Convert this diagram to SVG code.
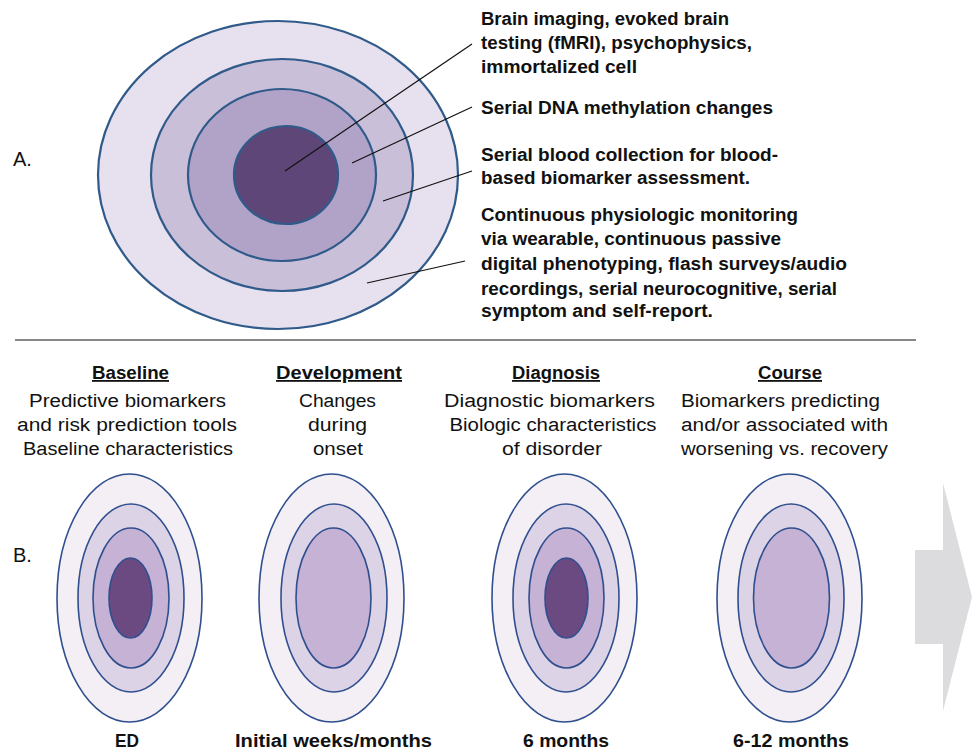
<svg xmlns="http://www.w3.org/2000/svg" width="973" height="752" viewBox="0 0 973 752">
<style>
.t{font-family:"Liberation Sans",Arial,sans-serif;font-size:18px;fill:#111;}
.b{font-weight:bold;}
.m{text-anchor:middle;}
.u{text-decoration:underline;}
.ra{stroke:#2f5a8a;stroke-width:2.2;}
.rb{stroke:#2f4f8f;stroke-width:1.6;}
.l1{fill:#f3eff5;}.l2{fill:#ddd3e6;}.l3{fill:#c5b2d5;}.l4{fill:#6a4a80;}
.lead{stroke:#111;stroke-width:1.2;fill:none;}
</style>
<rect width="973" height="752" fill="#fff"/>
<g id="partA">
<text class="t" x="13" y="166" style="font-size:20px">A.</text>
<g id="A-ellipses">
<ellipse class="ra" cx="278" cy="175" rx="180" ry="154" fill="#e7e0ee"/>
<ellipse class="ra" cx="282" cy="175" rx="131" ry="116" fill="#c9bfd9"/>
<ellipse class="ra" cx="282" cy="175" rx="94" ry="86" fill="#b0a3c7"/>
<ellipse class="ra" cx="286" cy="175" rx="52" ry="49" fill="#5e4778"/>
</g>
<g id="connectors">
<line class="lead" x1="285" y1="171" x2="472" y2="44"/>
<line class="lead" x1="352" y1="163" x2="472" y2="107"/>
<line class="lead" x1="383" y1="201" x2="472" y2="171"/>
<line class="lead" x1="367" y1="283" x2="465" y2="261"/>
</g>
<g id="A-labels">
<text class="t b" x="481" y="25" textLength="248" lengthAdjust="spacingAndGlyphs">Brain imaging, evoked brain</text>
<text class="t b" x="481" y="49" textLength="271" lengthAdjust="spacingAndGlyphs">testing (fMRI), psychophysics,</text>
<text class="t b" x="481" y="73" textLength="156" lengthAdjust="spacingAndGlyphs">immortalized cell</text>
<text class="t b" x="481" y="114" textLength="292" lengthAdjust="spacingAndGlyphs">Serial DNA methylation changes</text>
<text class="t b" x="481" y="161" textLength="297" lengthAdjust="spacingAndGlyphs">Serial blood collection for blood-</text>
<text class="t b" x="481" y="184" textLength="269" lengthAdjust="spacingAndGlyphs">based biomarker assessment.</text>
<text class="t b" x="481" y="221" textLength="317" lengthAdjust="spacingAndGlyphs">Continuous physiologic monitoring</text>
<text class="t b" x="481" y="245" textLength="300" lengthAdjust="spacingAndGlyphs">via wearable, continuous passive</text>
<text class="t b" x="481" y="270" textLength="366" lengthAdjust="spacingAndGlyphs">digital phenotyping, flash surveys/audio</text>
<text class="t b" x="481" y="295" textLength="356" lengthAdjust="spacingAndGlyphs">recordings, serial neurocognitive, serial</text>
<text class="t b" x="481" y="317" textLength="232" lengthAdjust="spacingAndGlyphs">symptom and self-report.</text>
</g>
</g>
<line x1="15" y1="340" x2="916" y2="340" stroke="#111" stroke-width="1.2"/>
<g id="partB">
<text class="t" x="13" y="562" style="font-size:20px">B.</text>
<g id="baseline">
<text class="t b m u" x="130.5" y="379" textLength="77" lengthAdjust="spacingAndGlyphs">Baseline</text>
<text class="t m" x="127.5" y="407" textLength="197" lengthAdjust="spacingAndGlyphs">Predictive biomarkers</text>
<text class="t m" x="127" y="431" textLength="220" lengthAdjust="spacingAndGlyphs">and risk prediction tools</text>
<text class="t m" x="128" y="455" textLength="210" lengthAdjust="spacingAndGlyphs">Baseline characteristics</text>
<ellipse class="rb l1" cx="129.5" cy="598" rx="72.5" ry="124"/>
<ellipse class="rb l2" cx="131" cy="598" rx="53" ry="94"/>
<ellipse class="rb l3" cx="131" cy="598" rx="38" ry="70"/>
<ellipse class="rb l4" cx="130.5" cy="598" rx="21.5" ry="40"/>
<text class="t b m" x="127" y="747" textLength="24" lengthAdjust="spacingAndGlyphs">ED</text>
</g>
<g id="development">
<text class="t b m u" x="339" y="379" textLength="126" lengthAdjust="spacingAndGlyphs">Development</text>
<text class="t m" x="337.5" y="407" textLength="77" lengthAdjust="spacingAndGlyphs">Changes</text>
<text class="t m" x="337.5" y="431" textLength="59" lengthAdjust="spacingAndGlyphs">during</text>
<text class="t m" x="338" y="455" textLength="50" lengthAdjust="spacingAndGlyphs">onset</text>
<ellipse class="rb l1" cx="331.5" cy="598" rx="72.5" ry="124"/>
<ellipse class="rb l2" cx="334" cy="598" rx="53" ry="94"/>
<ellipse class="rb l3" cx="333.5" cy="598" rx="37.5" ry="70"/>
<text class="t b m" x="333.5" y="747" textLength="197" lengthAdjust="spacingAndGlyphs">Initial weeks/months</text>
</g>
<g id="diagnosis">
<text class="t b m u" x="556" y="379" textLength="88" lengthAdjust="spacingAndGlyphs">Diagnosis</text>
<text class="t m" x="549.5" y="407" textLength="211" lengthAdjust="spacingAndGlyphs">Diagnostic biomarkers</text>
<text class="t m" x="553" y="431" textLength="207" lengthAdjust="spacingAndGlyphs">Biologic characteristics</text>
<text class="t m" x="552" y="455" textLength="100" lengthAdjust="spacingAndGlyphs">of disorder</text>
<ellipse class="rb l1" cx="564.5" cy="598" rx="72.5" ry="124"/>
<ellipse class="rb l2" cx="566" cy="598" rx="53" ry="94"/>
<ellipse class="rb l3" cx="566.5" cy="598" rx="37.5" ry="70"/>
<ellipse class="rb l4" cx="566.5" cy="598" rx="21.5" ry="40"/>
<text class="t b m" x="566" y="747" textLength="86" lengthAdjust="spacingAndGlyphs">6 months</text>
</g>
<g id="course">
<text class="t b m u" x="790" y="379" textLength="64" lengthAdjust="spacingAndGlyphs">Course</text>
<text class="t" x="681" y="407" textLength="199" lengthAdjust="spacingAndGlyphs">Biomarkers predicting</text>
<text class="t" x="681" y="431" textLength="207" lengthAdjust="spacingAndGlyphs">and/or associated with</text>
<text class="t" x="681" y="455" textLength="207" lengthAdjust="spacingAndGlyphs">worsening vs. recovery</text>
<ellipse class="rb l1" cx="789.5" cy="598" rx="72.5" ry="124"/>
<ellipse class="rb l2" cx="791" cy="598" rx="53" ry="94"/>
<ellipse class="rb l3" cx="791.5" cy="598" rx="38" ry="70"/>
<text class="t b m" x="791" y="747" textLength="116" lengthAdjust="spacingAndGlyphs">6-12 months</text>
</g>
<g id="arrow">
<polygon points="915,550 943,550 943,483 972,597 943,711 943,644 915,644" fill="#dcdcde"/>
</g>
</g>
</svg>
